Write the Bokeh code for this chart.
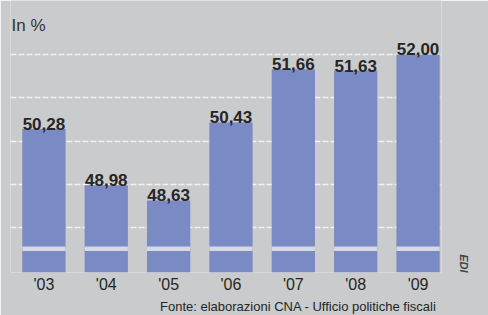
from bokeh.plotting import figure
from bokeh.models import Range1d, LinearAxis, FixedTicker, Grid, Label, Title
from bokeh.core.properties import value
from bokeh.embed import file_html
from bokeh.resources import INLINE

# ---- data ----
years = [2003, 2004, 2005, 2006, 2007, 2008, 2009]
year_labels = ["'03", "'04", "'05", "'06", "'07", "'08", "'09"]
pressure = [50.28, 48.98, 48.63, 50.43, 51.66, 51.63, 52.00]
grid_ticks = [48, 49, 50, 51, 52]
value_labels = [f"{v:.2f}".replace(".", ",") for v in pressure]

BG = "#c9cbcc"
BAR = "#7a8ac5"
TXT = "#262626"

y_start, y_end = 46.965, 53.247
p = figure(width=488, height=315, output_backend="svg", toolbar_location=None,
           x_range=Range1d(2002.464, 2009.376), y_range=Range1d(y_start, y_end),
           x_axis_location=None, y_axis_location=None,
           min_border_left=10, min_border_right=46, min_border_top=0, min_border_bottom=43)
p.background_fill_color = BG
p.border_fill_color = BG
p.outline_line_color = None
p.xgrid.visible = False
p.ygrid.visible = False

p.add_layout(Grid(dimension=1, ticker=FixedTicker(ticks=grid_ticks),
                  grid_line_color="#f2f2f2", grid_line_dash="6 2", grid_line_width=1.5))

p.vbar(x=years, top=pressure, bottom=y_start, width=0.694, fill_color=BAR, line_color=None)
# axis-break band inside the bars
p.vbar(x=years, top=47.565, bottom=47.46, width=0.694, fill_color="#d6d9e0", line_color=None)

p.text(x=years, y=pressure, text=value_labels, text_align="center", text_baseline="alphabetic",
       y_offset=-5, text_font=value("Liberation Sans"), text_font_style="bold",
       text_font_size="17px", text_color=TXT)

xaxis = LinearAxis(ticker=FixedTicker(ticks=years),
                   major_label_overrides=dict(zip(years, year_labels)),
                   axis_line_color=None, major_tick_line_color=None, minor_tick_line_color=None,
                   major_tick_in=0, major_tick_out=0,
                   major_label_standoff=3, major_label_text_font="Liberation Sans",
                   major_label_text_font_size="16px", major_label_text_color=TXT)
p.add_layout(xaxis, "below")

p.add_layout(Title(text="Fonte: elaborazioni CNA - Ufficio politiche fiscali", align="right",
                   offset=5, standoff=2, text_font="Liberation Sans",
                   text_font_size="13px", text_font_style="normal", text_color=TXT), "below")

p.add_layout(Title(text="EDI", align="right", offset=0, standoff=33, text_font="Liberation Sans",
                   text_font_size="11px", text_font_style="bold italic", text_color="#444444"),
             "right")

p.add_layout(Label(x=2002.48, y=52.67, text="In %", text_font="Liberation Sans",
                   text_font_size="17px", text_color="#333333", text_baseline="alphabetic"))

open("out.html", "w").write(file_html(p, INLINE))
